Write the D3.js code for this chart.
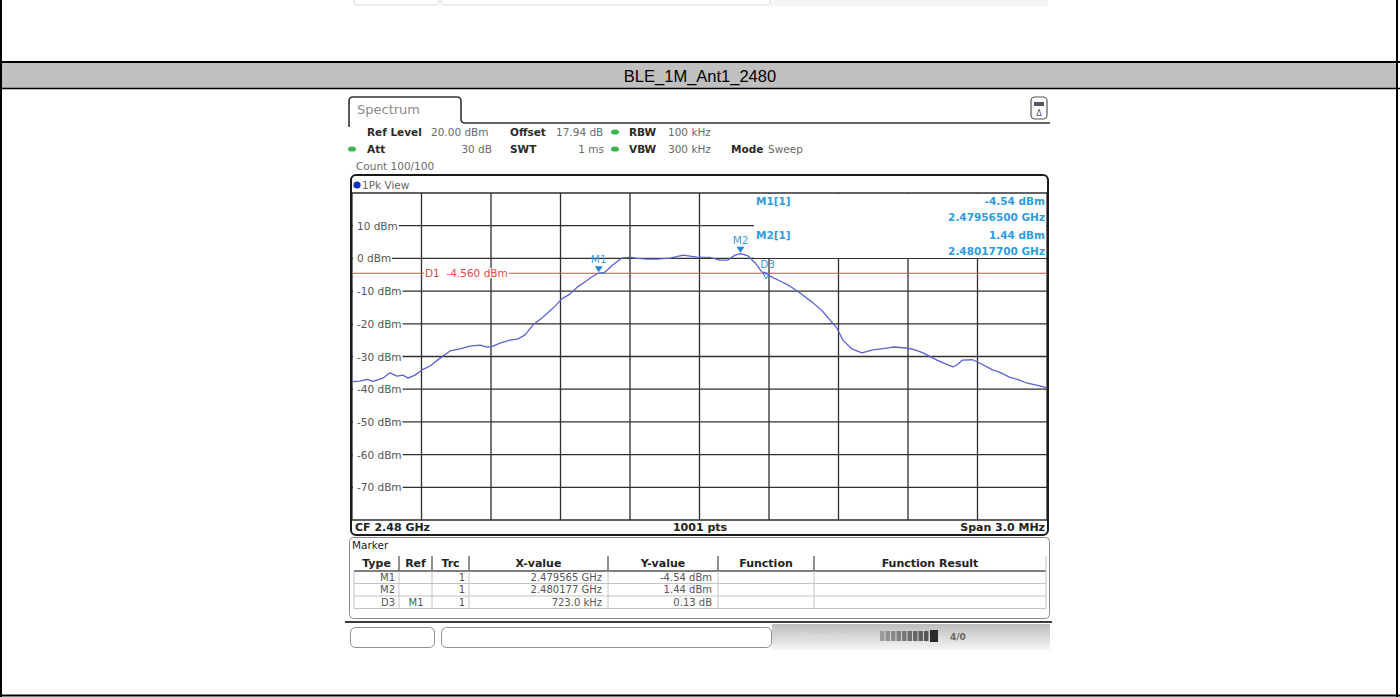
<!DOCTYPE html>
<html>
<head>
<meta charset="utf-8">
<script src="https://cdn.jsdelivr.net/npm/d3@7/dist/d3.min.js"></script>
<style>
  html, body { margin: 0; padding: 0; background: #fff; }
  svg { display: block; }
  text { font-family: "DejaVu Sans", Verdana, sans-serif; }
</style>
</head>
<body>
<svg id="chart" width="1400" height="697"></svg>
<script>
// ---- data ----
const title = 'BLE_1M_Ant1_2480';

// trace: offset from CF (MHz) and level (dBm)
const freqMHz = [
  -1.500, -1.465, -1.435, -1.409, -1.366, -1.336, -1.306, -1.280, -1.258, -1.228,
  -1.198, -1.163, -1.120, -1.077, -1.034, -0.991, -0.947, -0.917, -0.896, -0.861,
  -0.818, -0.783, -0.753, -0.719, -0.675, -0.632, -0.593, -0.561, -0.526, -0.496,
  -0.470, -0.440, -0.410, -0.375, -0.335, -0.300, -0.270, -0.227, -0.183, -0.127,
  -0.071, -0.011, 0.045, 0.088, 0.123, 0.153, 0.179, 0.209, 0.240, 0.270,
  0.287, 0.304, 0.348, 0.391, 0.434, 0.490, 0.529, 0.563, 0.593, 0.619,
  0.658, 0.701, 0.749, 0.792, 0.835, 0.896, 0.930, 0.965, 1.025, 1.060,
  1.094, 1.116, 1.135, 1.179, 1.209, 1.265, 1.295, 1.338, 1.381, 1.412,
  1.468, 1.500
];
const levelDbm = [
  -37.7, -37.5, -37.0, -37.6, -36.6, -35.0, -36.0, -35.7, -36.6, -35.7,
  -34.1, -32.9, -30.5, -28.3, -27.7, -26.8, -26.5, -27.1, -27.0, -25.9,
  -25.0, -24.6, -23.4, -20.4, -17.9, -15.2, -12.3, -11.0, -8.7, -7.3,
  -5.9, -4.6, -4.3, -2.0, 0.1, 0.4, 0.0, -0.2, -0.2, 0.1,
  1.0, 0.4, 0.3, -0.5, -0.5, 1.0, 1.44, 0.8, -1.4, -4.2,
  -4.4, -5.4, -6.9, -8.5, -10.6, -13.6, -16.0, -18.8, -21.3, -25.0,
  -27.7, -28.9, -28.0, -27.6, -27.1, -27.4, -28.0, -28.9, -31.1, -32.2,
  -33.2, -32.3, -31.1, -31.0, -32.0, -34.1, -34.8, -36.3, -37.2, -38.1,
  -39.0, -39.6
];

const levelTicks = [10, 0, -10, -20, -30, -40, -50, -60, -70];
const levelGrid = [20, 10, 0, -10, -20, -30, -40, -50, -60, -70, -80];
const freqGrid = [-1.5, -1.2, -0.9, -0.6, -0.3, 0, 0.3, 0.6, 0.9, 1.2, 1.5];
const displayLine = -4.56;

const markerNames = ['M1', 'M2', 'D3'];
const markerFreqs = [-0.435, 0.177, 0.288];
const markerLevels = [-4.54, 1.44, -4.41];

const tableHeads = ['Type', 'Ref', 'Trc', 'X-value', 'Y-value', 'Function', 'Function Result'];
const tableRows = [
  ['M1', '', '1', '2.479565 GHz', '-4.54 dBm', '', ''],
  ['M2', '', '1', '2.480177 GHz', '1.44 dBm', '', ''],
  ['D3', 'M1', '1', '723.0 kHz', '0.13 dB', '', '']
];

// ---- drawing ----
const svg = d3.select('#chart');

// page frame + title band
svg.append('rect').attr('x', 1).attr('y', 63).attr('width', 1396).attr('height', 25).attr('fill', '#c0c0c0');
svg.append('line').attr('x1', 0).attr('x2', 1400).attr('y1', 62).attr('y2', 62).attr('stroke', '#000').attr('stroke-width', 2);
svg.append('line').attr('x1', 0).attr('x2', 1400).attr('y1', 88.5).attr('y2', 88.5).attr('stroke', '#000').attr('stroke-width', 1.5);
svg.append('line').attr('x1', 1).attr('x2', 1).attr('y1', 0).attr('y2', 697).attr('stroke', '#000').attr('stroke-width', 2);
svg.append('line').attr('x1', 1397).attr('x2', 1397).attr('y1', 0).attr('y2', 697).attr('stroke', '#000').attr('stroke-width', 2);
svg.append('line').attr('x1', 0).attr('x2', 1400).attr('y1', 695.5).attr('y2', 695.5).attr('stroke', '#000').attr('stroke-width', 2);
svg.append('text').attr('x', 700).attr('y', 82).attr('text-anchor', 'middle')
  .style('font-family', '"Liberation Sans", Arial, sans-serif').style('font-size', '16.5px').attr('fill', '#000')
  .text(title);

// remnant of the previous screenshot at the top edge
svg.append('rect').attr('x', 770).attr('y', 0).attr('width', 278).attr('height', 6).attr('fill', '#f5f5f5');
svg.append('path').attr('d', 'M354,0 V2 Q354,5 357,5 H436 Q439,5 439,2 V0 M441,0 V2 Q441,5 444,5 H767 Q770,5 770,2 V0')
  .attr('fill', 'none').attr('stroke', '#dadada');

// ---- screenshot header ----
const shot = svg.append('g');
shot.append('path')
  .attr('d', 'M349,127 V101 Q349,97 353,97 H457 Q461,97 461,101 V119 Q461,123 465,123 H1050')
  .attr('fill', 'none').attr('stroke', '#333').attr('stroke-width', 1.6);
shot.append('text').attr('x', 357).attr('y', 114).style('font-size', '13px').attr('fill', '#8a8a8a').text('Spectrum');

// icon top right
shot.append('rect').attr('x', 1031).attr('y', 97).attr('width', 16).attr('height', 22).attr('rx', 4)
  .attr('fill', '#fff').attr('stroke', '#555').attr('stroke-width', 1.2);
shot.append('rect').attr('x', 1034).attr('y', 102).attr('width', 10).attr('height', 4).attr('fill', '#556');
shot.append('text').attr('x', 1039).attr('y', 116).attr('text-anchor', 'middle').style('font-size', '8px').attr('fill', '#557').text('\u0394');

const hdr = [
  { x: 367, y: 136, t: 'Ref Level', b: true },
  { x: 431, y: 136, t: '20.00 dBm' },
  { x: 510, y: 136, t: 'Offset', b: true },
  { x: 556, y: 136, t: '17.94 dB' },
  { x: 629, y: 136, t: 'RBW', b: true },
  { x: 668, y: 136, t: '100 kHz' },
  { x: 367, y: 153, t: 'Att', b: true },
  { x: 492, y: 153, t: '30 dB', end: true },
  { x: 510, y: 153, t: 'SWT', b: true },
  { x: 604, y: 153, t: '1 ms', end: true },
  { x: 629, y: 153, t: 'VBW', b: true },
  { x: 668, y: 153, t: '300 kHz' },
  { x: 731, y: 153, t: 'Mode', b: true },
  { x: 768, y: 153, t: 'Sweep' },
  { x: 356, y: 170, t: 'Count 100/100' }
];
shot.selectAll('text.hdr').data(hdr).enter().append('text')
  .attr('class', 'hdr')
  .attr('x', (d) => d.x).attr('y', (d) => d.y)
  .attr('text-anchor', (d) => (d.end ? 'end' : 'start'))
  .style('font-size', '10.5px')
  .style('font-weight', (d) => (d.b ? 'bold' : 'normal'))
  .attr('fill', (d) => (d.b ? '#2a2a2a' : '#6a6a6a'))
  .text((d) => d.t);
[[615, 132], [352, 149], [615, 149]].forEach(([cx, cy]) => {
  shot.append('ellipse').attr('cx', cx).attr('cy', cy).attr('rx', 4).attr('ry', 2.6).attr('fill', '#3cb54a');
});

// ---- diagram ----
const x = d3.scaleLinear().domain([-1.5, 1.5]).range([352, 1047]);
const y = d3.scaleLinear().domain([-80, 20]).range([520, 193]);

const plot = svg.append('g');
plot.append('circle').attr('cx', 357).attr('cy', 185).attr('r', 3.6).attr('fill', '#1530c8');
plot.append('text').attr('x', 362).attr('y', 189).style('font-size', '10.5px').attr('fill', '#666').text('1Pk View');

plot.selectAll('line.vg').data(freqGrid).enter().append('line')
  .attr('class', 'vg')
  .attr('x1', (d) => x(d)).attr('x2', (d) => x(d))
  .attr('y1', y(20)).attr('y2', y(-80))
  .attr('stroke', '#2e2e2e').attr('stroke-width', 1.3);
plot.selectAll('line.hg').data(levelGrid).enter().append('line')
  .attr('class', 'hg')
  .attr('x1', x(-1.5)).attr('x2', x(1.5))
  .attr('y1', (d) => y(d)).attr('y2', (d) => y(d))
  .attr('stroke', '#2e2e2e').attr('stroke-width', 1.3);

// level labels with white backing
const lab = plot.selectAll('g.ylab').data(levelTicks).enter().append('g').attr('class', 'ylab');
lab.append('rect').attr('fill', '#fff');
lab.append('text')
  .attr('x', 357).attr('y', (d) => y(d) + 4)
  .style('font-size', '10.5px').attr('fill', '#555')
  .text((d) => `${d} dBm`);
lab.each(function () {
  const t = d3.select(this).select('text').node().getBBox();
  d3.select(this).select('rect').attr('x', 353).attr('y', t.y).attr('width', t.x + t.width - 353 + 1).attr('height', t.height);
});

// display line D1
plot.append('line').attr('x1', x(-1.5)).attr('x2', x(1.5)).attr('y1', y(displayLine)).attr('y2', y(displayLine))
  .attr('stroke', '#e24a44').attr('stroke-width', 1.1);
const d1 = plot.append('text').attr('x', 425).attr('y', y(displayLine) + 4)
  .style('font-size', '10.5px').attr('fill', '#e24a44').attr('xml:space', 'preserve').text('D1  -4.560 dBm');
const d1b = d1.node().getBBox();
plot.insert('rect', () => d1.node()).attr('x', d1b.x - 1).attr('y', d1b.y + 1).attr('width', d1b.width + 2).attr('height', d1b.height - 2).attr('fill', '#fff');

// marker info box
plot.append('rect').attr('x', 754).attr('y', 194).attr('width', 292).attr('height', 64).attr('fill', '#fff');
const info = [
  { x: 756, y: 205, t: 'M1[1]', a: 'start' },
  { x: 1045, y: 205, t: '-4.54 dBm', a: 'end' },
  { x: 1045, y: 221, t: '2.47956500 GHz', a: 'end' },
  { x: 756, y: 239, t: 'M2[1]', a: 'start' },
  { x: 1045, y: 239, t: '1.44 dBm', a: 'end' },
  { x: 1045, y: 255, t: '2.48017700 GHz', a: 'end' }
];
plot.selectAll('text.info').data(info).enter().append('text')
  .attr('class', 'info')
  .attr('x', (d) => d.x).attr('y', (d) => d.y).attr('text-anchor', (d) => d.a)
  .style('font-size', '10.5px').style('font-weight', 'bold').attr('fill', '#2f9be0')
  .text((d) => d.t);

// trace
const line = d3.line().x((d, i) => x(freqMHz[i])).y((d) => y(d));
plot.append('path').datum(levelDbm)
  .attr('fill', 'none').attr('stroke', '#5a62d6').attr('stroke-width', 1.3).attr('stroke-linejoin', 'round')
  .attr('d', line);

// markers
markerNames.forEach((name, i) => {
  const mx = x(markerFreqs[i]);
  const my = y(markerLevels[i]);
  if (name === 'D3') {
    plot.append('text').attr('x', mx - 6).attr('y', my - 5).style('font-size', '10.5px').attr('fill', '#3aa0e2').text(name);
    plot.append('path').attr('d', `M${mx - 3},${my + 1} L${mx + 3},${my + 1} L${mx},${my + 6} Z`)
      .attr('fill', 'none').attr('stroke', '#1f86d2').attr('stroke-width', 1);
  } else {
    plot.append('path').attr('d', `M${mx - 4},${my - 7} L${mx + 4},${my - 7} L${mx},${my - 1} Z`).attr('fill', '#1f86d2');
    plot.append('text').attr('x', mx).attr('y', my - 10).attr('text-anchor', 'middle')
      .style('font-size', '10.5px').attr('fill', '#3aa0e2').text(name);
  }
});

// footer of the diagram
plot.append('text').attr('x', 355).attr('y', 531).style('font-size', '11px').style('font-weight', 'bold').attr('fill', '#222').text('CF 2.48 GHz');
plot.append('text').attr('x', 700).attr('y', 531).attr('text-anchor', 'middle').style('font-size', '11px').style('font-weight', 'bold').attr('fill', '#222').text('1001 pts');
plot.append('text').attr('x', 1045).attr('y', 531).attr('text-anchor', 'end').style('font-size', '11px').style('font-weight', 'bold').attr('fill', '#222').text('Span 3.0 MHz');

plot.append('rect').attr('x', 351).attr('y', 175).attr('width', 697).attr('height', 360).attr('rx', 5)
  .attr('fill', 'none').attr('stroke', '#1a1a1a').attr('stroke-width', 2);

// ---- marker table ----
const tab = svg.append('g');
tab.append('rect').attr('x', 349.5).attr('y', 537.5).attr('width', 700).attr('height', 81).attr('rx', 4)
  .attr('fill', '#fff').attr('stroke', '#8a8a8a');
tab.append('text').attr('x', 352).attr('y', 549).style('font-size', '10.5px').attr('fill', '#222').text('Marker');

const colEdges = [354, 399, 432, 469, 608, 718, 814, 1046];
const headTop = 556;
const headBottom = 571;
const rowH = 12.5;

tab.selectAll('text.th').data(tableHeads).enter().append('text')
  .attr('class', 'th')
  .attr('x', (d, i) => (colEdges[i] + colEdges[i + 1]) / 2)
  .attr('y', 567).attr('text-anchor', 'middle')
  .style('font-size', '11px').style('font-weight', 'bold').attr('fill', '#222')
  .text((d) => d);

// row lines
tableRows.forEach((r, i) => {
  const yb = headBottom + (i + 1) * rowH;
  tab.append('line').attr('x1', colEdges[0]).attr('x2', colEdges[7]).attr('y1', yb).attr('y2', yb)
    .attr('stroke', '#c4c4c4');
});
tab.append('line').attr('x1', colEdges[0]).attr('x2', colEdges[7]).attr('y1', headBottom).attr('y2', headBottom)
  .attr('stroke', '#555').attr('stroke-width', 1.4);
colEdges.slice(1, 7).forEach((cx) => {
  tab.append('line').attr('x1', cx).attr('x2', cx).attr('y1', headTop).attr('y2', headBottom).attr('stroke', '#555').attr('stroke-width', 1.3);
  tab.append('line').attr('x1', cx).attr('x2', cx).attr('y1', headBottom).attr('y2', headBottom + 3 * rowH).attr('stroke', '#c4c4c4');
});
tab.append('line').attr('x1', colEdges[0]).attr('x2', colEdges[0]).attr('y1', headBottom).attr('y2', headBottom + 3 * rowH).attr('stroke', '#c4c4c4');
tab.append('line').attr('x1', colEdges[7]).attr('x2', colEdges[7]).attr('y1', headTop).attr('y2', headBottom + 3 * rowH).attr('stroke', '#c4c4c4');

const cellX = [395, 416, 465, 602, 712];
const cellAnchor = ['end', 'middle', 'end', 'end', 'end'];
tableRows.forEach((r, i) => {
  r.slice(0, 5).forEach((v, j) => {
    if (!v) return;
    tab.append('text').attr('x', cellX[j]).attr('y', headBottom + i * rowH + 9.5)
      .attr('text-anchor', cellAnchor[j])
      .style('font-size', '10px').attr('fill', '#555').text(v);
  });
});

// ---- bottom status strip ----
const foot = svg.append('g');
const grad = svg.append('defs').append('linearGradient').attr('id', 'stripGrad').attr('x1', 0).attr('y1', 0).attr('x2', 0).attr('y2', 1);
grad.append('stop').attr('offset', '0%').attr('stop-color', '#bdbdbd');
grad.append('stop').attr('offset', '100%').attr('stop-color', '#f6f6f6');
foot.append('line').attr('x1', 345).attr('x2', 1052).attr('y1', 622).attr('y2', 622).attr('stroke', '#3a3a3a').attr('stroke-width', 2);
foot.append('rect').attr('x', 772).attr('y', 624).attr('width', 278).attr('height', 26).attr('fill', 'url(#stripGrad)');
foot.append('rect').attr('x', 350.5).attr('y', 627.5).attr('width', 84).attr('height', 20).attr('rx', 5).attr('fill', '#fff').attr('stroke', '#8c8c8c');
foot.append('rect').attr('x', 441.5).attr('y', 627.5).attr('width', 330).attr('height', 20).attr('rx', 5).attr('fill', '#fff').attr('stroke', '#8c8c8c');
foot.append('text').attr('x', 800).attr('y', 640).style('font-size', '10px').attr('fill', '#dedede').text('Measuring...');
d3.range(9).forEach((i) => {
  foot.append('rect').attr('x', 880 + i * 5.5).attr('y', 631).attr('width', 4.5).attr('height', 10)
    .attr('fill', d3.interpolateRgb('#9a9a9a', '#555')(i / 8));
});
foot.append('rect').attr('x', 930).attr('y', 630).attr('width', 8).attr('height', 12).attr('fill', '#2a2a2a');
foot.append('text').attr('x', 950).attr('y', 640).style('font-size', '9px').style('font-weight', 'bold').attr('fill', '#666').text('4/0');
</script>
</body>
</html>
